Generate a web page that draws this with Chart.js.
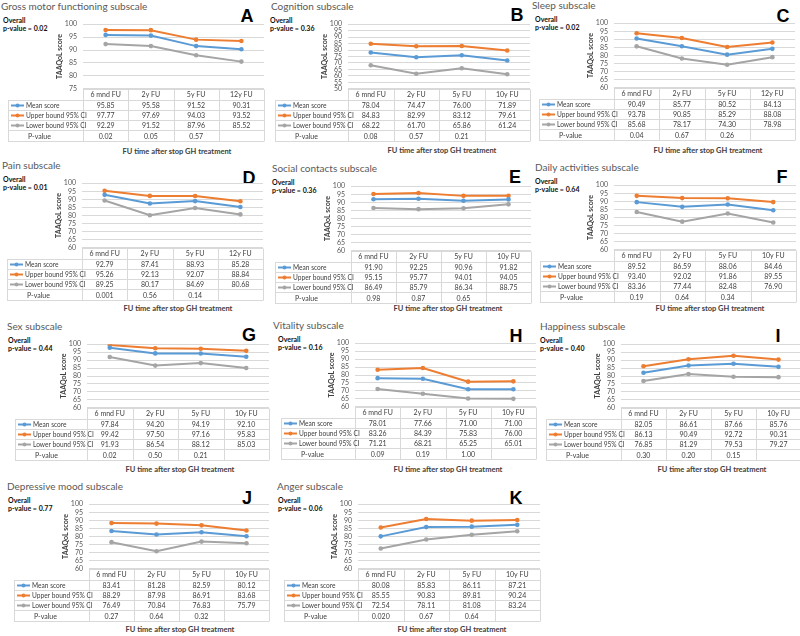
<!DOCTYPE html>
<html>
<head>
<meta charset="utf-8">
<script src="https://cdn.jsdelivr.net/npm/chart.js@4.4.1/dist/chart.umd.min.js"></script>
<style>
  html, body { margin: 0; padding: 0; background: #fff; overflow: hidden; }
  body { width: 800px; height: 636px; position: relative; font-family: Lato, "Liberation Sans", sans-serif; }
  canvas { position: absolute; }
  .title { position: absolute; font-size: 10px; color: #595959; white-space: nowrap; line-height: 12px; }
  .overall { position: absolute; font-size: 7px; font-weight: bold; color: #111; white-space: nowrap; line-height: 9px; }
  .letter { position: absolute; font-family: "Liberation Sans", Arial, sans-serif; font-size: 18px; font-weight: bold; color: #000; line-height: 18px; transform: translate(-50%, -50%); }
  .fu { position: absolute; font-size: 7.5px; font-weight: bold; color: #404040; white-space: nowrap; transform: translate(-50%, -50%); }
</style>
</head>
<body>
<script>
// Subscale data (TAAQoL scores)
const subscaleTitles = ["Gross motor functioning subscale", "Cognition subscale", "Sleep subscale",
  "Pain subscale", "Social contacts subscale", "Daily activities subscale",
  "Sex subscale", "Vitality subscale", "Happiness subscale",
  "Depressive mood subscale", "Anger subscale"];
const panelLetters = ["A", "B", "C", "D", "E", "F", "G", "H", "I", "J", "K"];
const overallP = ["0.02", "0.36", "0.02", "0.01", "0.36", "0.64", "0.44", "0.16", "0.40", "0.77", "0.06"];

const labels12y = ["6 mnd FU", "2y FU", "5y FU", "12y FU"];
const labels10y = ["6 mnd FU", "2y FU", "5y FU", "10y FU"];
const panelLabels = [labels12y, labels10y, labels12y, labels12y, labels10y, labels10y,
  labels10y, labels10y, labels10y, labels10y, labels10y];

const meanScore = [
  [95.85, 95.58, 91.52, 90.31],
  [78.04, 74.47, 76.00, 71.89],
  [90.49, 85.77, 80.52, 84.13],
  [92.79, 87.41, 88.93, 85.28],
  [91.90, 92.25, 90.96, 91.82],
  [89.52, 86.59, 88.06, 84.46],
  [97.84, 94.20, 94.19, 92.10],
  [78.01, 77.66, 71.00, 71.00],
  [82.05, 86.61, 87.66, 85.76],
  [83.41, 81.28, 82.59, 80.12],
  [80.08, 85.83, 86.11, 87.21]
];
const upperCI = [
  [97.77, 97.69, 94.03, 93.52],
  [84.83, 82.99, 83.12, 79.61],
  [93.78, 90.85, 85.29, 88.08],
  [95.26, 92.13, 92.07, 88.84],
  [95.15, 95.77, 94.01, 94.05],
  [93.40, 92.02, 91.86, 89.55],
  [99.42, 97.50, 97.16, 95.83],
  [83.26, 84.39, 75.83, 76.00],
  [86.13, 90.49, 92.72, 90.31],
  [88.29, 87.98, 86.91, 83.68],
  [85.55, 90.83, 89.81, 90.24]
];
const lowerCI = [
  [92.29, 91.52, 87.96, 85.52],
  [68.22, 61.70, 65.86, 61.24],
  [85.68, 78.17, 74.30, 78.98],
  [89.25, 80.17, 84.69, 80.68],
  [86.49, 85.79, 86.34, 88.75],
  [83.36, 77.44, 82.48, 76.90],
  [91.93, 86.54, 88.12, 85.03],
  [71.21, 68.21, 65.25, 65.01],
  [76.85, 81.29, 79.53, 79.27],
  [76.49, 70.84, 76.83, 75.79],
  [72.54, 78.11, 81.08, 83.24]
];
const pValues = [
  ["0.02", "0.05", "0.57", ""],
  ["0.08", "0.57", "0.21", ""],
  ["0.04", "0.67", "0.26", ""],
  ["0.001", "0.56", "0.14", ""],
  ["0.98", "0.87", "0.65", ""],
  ["0.19", "0.64", "0.34", ""],
  ["0.02", "0.50", "0.21", ""],
  ["0.09", "0.19", "1.00", ""],
  ["0.30", "0.20", "0.15", ""],
  ["0.27", "0.64", "0.32", ""],
  ["0.020", "0.67", "0.64", ""]
];
const yMin = [75, 50, 60, 60, 60, 60, 60, 60, 60, 60, 60];

const seriesNames = ["Mean score", "Upper bound 95% CI", "Lower bound 95% CI"];
const seriesColors = ["#5B9BD5", "#ED7D31", "#A5A5A5"];

// Layout of each panel: table left, plot left, plot right, plot top, plot bottom
const boxes = [
  [8, 83, 268, 19, 89],
  [275, 348, 534, 19, 89],
  [539, 614, 799, 18, 88],
  [7, 82, 267, 178, 248],
  [275, 351, 535, 181, 251],
  [540, 614, 800, 180, 250],
  [15, 87, 273, 339, 408],
  [281, 355, 540, 338, 407],
  [546, 621, 805, 339, 408],
  [14, 89, 273, 499, 569],
  [284, 358, 544, 499, 569]
];
// title x, overall x, letter x/y, FU label x/y
const titlePos = [1, 271, 532, 2, 272, 535, 7, 273, 540, 7, 277];
const overallPos = [3, 270, 535, 3, 272, 535, 8, 278, 540, 8, 278];
const letterPos = [[247, 16], [517, 15], [783, 16], [249, 178], [515, 177], [782, 177],
  [249, 335], [516, 336], [778, 336], [247, 498], [516, 498]];
const fuPos = [[177, 151], [442, 150], [708, 150], [178, 308], [448, 308], [710, 308],
  [180, 469], [448, 469], [712, 469], [180, 629], [452, 629]];

const HEAD_H = 10;
const ROW_H = 10.3;
const TABLE_H = HEAD_H + 4 * ROW_H;
const Y_AXIS_W = 31;

// Draws the Excel-like data table under the plot, aligned to the x scale
const dataTable = {
  id: "dataTable",
  afterDraw(chart, args, opts) {
    const { ctx, chartArea } = chart;
    const xs = chart.scales.x;
    const n = chart.data.labels.length;
    const colW = (xs.right - xs.left) / n;
    const top = Math.round(chartArea.bottom) + 0.5;
    const bottom = Math.round(top + TABLE_H) + 0.5;
    const rowY = (r) => Math.round(top + HEAD_H + r * ROW_H) + 0.5;

    ctx.save();
    ctx.strokeStyle = "#d9d9d9";
    ctx.lineWidth = 1;
    ctx.beginPath();
    ctx.moveTo(xs.left, top);
    ctx.lineTo(xs.right, top);
    for (let r = 0; r <= 4; r++) {
      ctx.moveTo(0, rowY(r));
      ctx.lineTo(xs.right, rowY(r));
    }
    ctx.moveTo(0.5, rowY(0));
    ctx.lineTo(0.5, bottom);
    for (let c = 0; c <= n; c++) {
      const x = Math.min(Math.round(xs.getPixelForValue(c) - colW / 2) + 0.5, chart.width - 0.5);
      ctx.moveTo(x, top);
      ctx.lineTo(x, bottom);
    }
    ctx.stroke();

    ctx.font = "7px Lato, 'Liberation Sans', sans-serif";
    ctx.fillStyle = "#404040";
    ctx.textBaseline = "middle";

    // header row = categories
    ctx.textAlign = "center";
    chart.data.labels.forEach((lab, c) => {
      ctx.fillText(lab, xs.getPixelForValue(c), top + HEAD_H / 2 + 0.5);
    });

    // series rows with legend keys
    chart.data.datasets.forEach((ds, k) => {
      const cy = (rowY(k) + rowY(k + 1)) / 2;
      ctx.strokeStyle = ds.borderColor;
      ctx.lineWidth = 2;
      ctx.beginPath();
      ctx.moveTo(3, cy);
      ctx.lineTo(16, cy);
      ctx.stroke();
      ctx.fillStyle = ds.borderColor;
      ctx.beginPath();
      ctx.arc(9.5, cy, 2, 0, Math.PI * 2);
      ctx.fill();
      ctx.fillStyle = "#404040";
      ctx.textAlign = "left";
      ctx.font = "6.6px Lato, 'Liberation Sans', sans-serif";
      ctx.fillText(ds.label, 18, cy + 0.5);
      ctx.font = "7px Lato, 'Liberation Sans', sans-serif";
      ctx.textAlign = "center";
      ds.data.forEach((v, c) => ctx.fillText(v.toFixed(2), xs.getPixelForValue(c), cy + 0.5));
    });

    // p-value row
    const py = (rowY(3) + rowY(4)) / 2;
    ctx.textAlign = "left";
    ctx.fillText("P-value", 20, py + 0.5);
    ctx.textAlign = "center";
    opts.pValues.forEach((p, c) => ctx.fillText(p, xs.getPixelForValue(c), py + 0.5));
    ctx.restore();
  }
};

function addText(cls, text, x, y) {
  const el = document.createElement("div");
  el.className = cls;
  el.textContent = text;
  el.style.left = x + "px";
  el.style.top = y + "px";
  document.body.appendChild(el);
  return el;
}

subscaleTitles.forEach((title, i) => {
  const [tableLeft, plotL, plotR, plotTop, plotBottom] = boxes[i];
  const plotH = plotBottom - plotTop;
  const padTop = 5;
  const canvasH = padTop + plotH + TABLE_H + 3;

  addText("title", title, titlePos[i], plotTop - 19);
  addText("overall", "Overall", overallPos[i], plotTop - 3.5);
  addText("overall", "p-value = " + overallP[i], overallPos[i], plotTop + 5);
  addText("letter", panelLetters[i], letterPos[i][0], letterPos[i][1]);
  addText("fu", "FU time after stop GH treatment", fuPos[i][0], fuPos[i][1]);

  const canvas = document.createElement("canvas");
  canvas.width = plotR - tableLeft;
  canvas.height = canvasH;
  canvas.style.left = tableLeft + "px";
  canvas.style.top = (plotTop - padTop) + "px";
  document.body.appendChild(canvas);

  const seriesData = [meanScore[i], upperCI[i], lowerCI[i]];

  new Chart(canvas, {
    type: "line",
    data: {
      labels: panelLabels[i],
      datasets: seriesNames.map((name, k) => ({
        label: name,
        data: seriesData[k],
        borderColor: seriesColors[k],
        backgroundColor: seriesColors[k],
        borderWidth: 2,
        pointRadius: 2.3,
        pointBorderWidth: 0,
        tension: 0
      }))
    },
    options: {
      responsive: false,
      animation: false,
      devicePixelRatio: 1,
      layout: {
        padding: { left: plotL - tableLeft - Y_AXIS_W, top: padTop, right: 0, bottom: canvasH - padTop - plotH }
      },
      plugins: {
        legend: { display: false },
        tooltip: { enabled: false },
        dataTable: { pValues: pValues[i] }
      },
      scales: {
        x: { display: false, offset: true },
        y: {
          min: yMin[i],
          max: 100,
          afterFit: (s) => { s.width = Y_AXIS_W; },
          ticks: { stepSize: 5, autoSkip: false, padding: 6, color: "#595959",
            font: { family: "Lato, 'Liberation Sans', sans-serif", size: 7 } },
          grid: { color: "#d9d9d9", drawTicks: false },
          border: { display: false },
          title: { display: true, text: "TAAQoL score", color: "#404040", padding: { top: 4, bottom: 0 },
            font: { family: "Lato, 'Liberation Sans', sans-serif", size: 7, weight: "bold" } }
        }
      }
    },
    plugins: [dataTable]
  });
});
</script>
</body>
</html>
